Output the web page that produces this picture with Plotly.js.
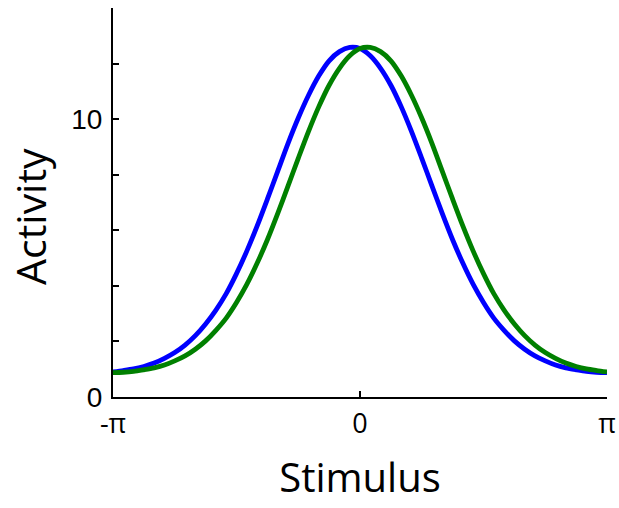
<!DOCTYPE html>
<html>
<head>
<meta charset="utf-8">
<script src="https://cdn.plot.ly/plotly-3.0.1.min.js"></script>
<style>html,body{margin:0;padding:0;background:#fff;}#chart{width:619px;height:508px;}</style>
</head>
<body>
<div id="chart"></div>
<script>
// Stimulus angles (radians), steps of pi/24 from -pi to pi
const stimulus = [-3.1416, -3.0107, -2.8798, -2.7489, -2.6180, -2.4871, -2.3562, -2.2253, -2.0944, -1.9635, -1.8326, -1.7017, -1.5708, -1.4399, -1.3090, -1.1781, -1.0472, -0.9163, -0.7854, -0.6545, -0.5236, -0.3927, -0.2618, -0.1309, 0, 0.1309, 0.2618, 0.3927, 0.5236, 0.6545, 0.7854, 0.9163, 1.0472, 1.1781, 1.3090, 1.4399, 1.5708, 1.7017, 1.8326, 1.9635, 2.0944, 2.2253, 2.3562, 2.4871, 2.6180, 2.7489, 2.8798, 3.0107, 3.1416];
// Blue tuning curve (peak slightly left of 0)
const blueActivity = [0.90, 0.95, 1.01, 1.10, 1.22, 1.39, 1.60, 1.87, 2.21, 2.63, 3.13, 3.72, 4.44, 5.25, 6.15, 7.12, 8.12, 9.12, 10.04, 10.86, 11.56, 12.10, 12.43, 12.58, 12.54, 12.28, 11.83, 11.22, 10.45, 9.56, 8.59, 7.59, 6.60, 5.66, 4.81, 4.05, 3.40, 2.84, 2.40, 2.02, 1.72, 1.48, 1.30, 1.15, 1.05, 0.98, 0.92, 0.89, 0.88];
// Green tuning curve (peak slightly right of 0)
const greenActivity = [0.88, 0.89, 0.92, 0.98, 1.05, 1.15, 1.30, 1.48, 1.72, 2.02, 2.40, 2.84, 3.40, 4.05, 4.81, 5.66, 6.60, 7.59, 8.59, 9.56, 10.45, 11.22, 11.83, 12.28, 12.54, 12.58, 12.43, 12.10, 11.56, 10.86, 10.04, 9.12, 8.12, 7.12, 6.15, 5.25, 4.44, 3.72, 3.13, 2.63, 2.21, 1.87, 1.60, 1.39, 1.22, 1.10, 1.01, 0.95, 0.90];
// Tick definitions
const xTickVals = [-Math.PI, 0, Math.PI];
const xTickText = ['-π', '0', 'π'];
const yTickVals = [0, 2, 4, 6, 8, 10, 12, 14];
const yTickText = ['0', '', '', '', '', '10', '', ''];

const traces = [
  {x: stimulus, y: blueActivity, type: 'scatter', mode: 'lines', name: 'blue',
   line: {color: '#0000ff', width: 4.8, shape: 'spline', smoothing: 0.8}},
  {x: stimulus, y: greenActivity, type: 'scatter', mode: 'lines', name: 'green',
   line: {color: '#008000', width: 4.8, shape: 'spline', smoothing: 0.8}}
];

const layout = {
  width: 619, height: 508,
  margin: {l: 113, r: 12, t: 8, b: 111},
  paper_bgcolor: '#ffffff', plot_bgcolor: '#ffffff',
  showlegend: false,
  xaxis: {
    range: [-Math.PI, Math.PI], tickvals: xTickVals, ticktext: xTickText,
    ticks: 'inside', ticklen: 6, tickwidth: 2, tickcolor: '#000',
    showline: true, linecolor: '#000', linewidth: 2,
    showgrid: false, zeroline: false, automargin: false,
    ticklabelstandoff: 2,
    tickfont: {family: 'Open Sans', size: 27, color: '#000'},
    title: {text: 'Stimulus', font: {family: 'Open Sans', size: 40, color: '#000'}, standoff: 24}
  },
  yaxis: {
    range: [0, 14], tickvals: yTickVals, ticktext: yTickText,
    ticks: 'inside', ticklen: 6, tickwidth: 2, tickcolor: '#000',
    showline: true, linecolor: '#000', linewidth: 2,
    showgrid: false, zeroline: false, automargin: false,
    ticklabelstandoff: 3,
    tickfont: {family: 'Liberation Sans, Arial', size: 28, color: '#000'}
  },
  annotations: [{
    text: 'Activity', xref: 'paper', yref: 'paper', x: -0.168, y: 0.463,
    xanchor: 'center', yanchor: 'middle', textangle: -90, showarrow: false,
    font: {family: 'Open Sans', size: 41, color: '#000'}
  }]
};

Plotly.newPlot('chart', traces, layout, {staticPlot: true, displayModeBar: false});
</script>
</body>
</html>
